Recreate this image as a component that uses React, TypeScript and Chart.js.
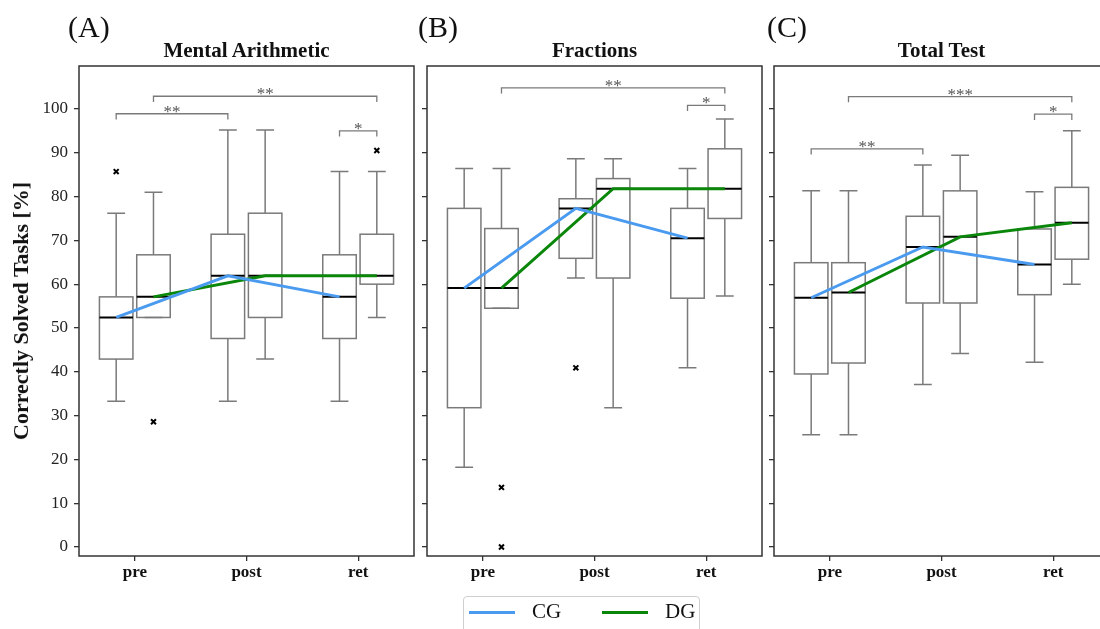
import React, { useEffect, useRef } from 'react';
import { Chart, registerables } from 'chart.js';

Chart.register(...registerables);

// ---------- data ----------
const timepoints = ['pre', 'post', 'ret'];
const groupNames = ['CG', 'DG'];
const yTicks = [0, 10, 20, 30, 40, 50, 60, 70, 80, 90, 100];
const panelLetters = ['(A)', '(B)', '(C)'];
const panelTitles = ['Mental Arithmetic', 'Fractions', 'Total Test'];
const yAxisTitle = 'Correctly Solved Tasks [%]';

// box statistics per timepoint: [lower whisker, Q1, median, Q3, upper whisker]
const arithmeticCG = [
  [33.3, 42.9, 52.4, 57.1, 76.2],
  [33.3, 47.6, 61.9, 71.4, 95.2],
  [33.3, 47.6, 57.1, 66.7, 85.7],
];
const arithmeticDG = [
  [52.4, 52.4, 57.1, 66.7, 81.0],
  [42.9, 52.4, 61.9, 76.2, 95.2],
  [52.4, 60.0, 61.9, 71.4, 85.7],
];
const fractionsCG = [
  [18.2, 31.8, 59.1, 77.3, 86.4],
  [61.4, 65.9, 77.3, 79.5, 88.6],
  [40.9, 56.8, 70.5, 77.3, 86.4],
];
const fractionsDG = [
  [54.5, 54.5, 59.1, 72.7, 86.4],
  [31.8, 61.4, 81.8, 84.1, 88.6],
  [57.3, 75.0, 81.8, 90.9, 97.7],
];
const totalCG = [
  [25.6, 39.5, 56.9, 64.9, 81.3],
  [37.1, 55.7, 68.5, 75.5, 87.2],
  [42.2, 57.6, 64.5, 72.6, 81.1],
];
const totalDG = [
  [25.6, 42.0, 58.1, 64.9, 81.3],
  [44.2, 55.7, 70.8, 81.3, 89.4],
  [60.0, 65.7, 74.0, 82.1, 95.0],
];

// outliers: [timepoint index, value]
const arithmeticOutliersCG = [[0, 85.7]];
const arithmeticOutliersDG = [[0, 28.6], [2, 90.5]];
const fractionsOutliersCG = [[1, 40.9]];
const fractionsOutliersDG = [[0, 13.6], [0, 0.0]];
const totalOutliersCG: number[][] = [];
const totalOutliersDG: number[][] = [];

// significance brackets: [from timepoint, from group, to timepoint, to group, height, label]
const arithmeticBrackets: (number | string)[][] = [
  [0, 0, 1, 0, 98.9, '**'],
  [0, 1, 2, 1, 102.9, '**'],
  [2, 0, 2, 1, 95.0, '*'],
];
const fractionsBrackets: (number | string)[][] = [
  [0, 1, 2, 1, 104.8, '**'],
  [2, 0, 2, 1, 100.8, '*'],
];
const totalBrackets: (number | string)[][] = [
  [0, 0, 1, 0, 90.9, '**'],
  [0, 1, 2, 1, 102.8, '***'],
  [2, 0, 2, 1, 98.8, '*'],
];

// ---------- style ----------
const SERIF = "'Liberation Serif', 'Times New Roman', Times, serif";
const BLUE = '#4a9bef';
const GREEN = '#0a870a';
const BOX_COLOR = '#7a7a7a';
const FRAME_COLOR = '#333333';
const GROUP_OFFSET = 0.167;
const BOX_WIDTH = 0.3;
const CAP_WIDTH = 0.16;
const BRACKET_LEG = 1.3;
const Y_MIN = -2.05;
const Y_MAX = 109.8;

const xOf = (t: number, g: number) => t + (g === 0 ? -GROUP_OFFSET : GROUP_OFFSET);

type PanelProps = {
  left: number;
  cg: number[][];
  dg: number[][];
  outCG: number[][];
  outDG: number[][];
  brackets: (number | string)[][];
  showYLabels: boolean;
};

function Panel({ left, cg, dg, outCG, outDG, brackets, showYLabels }: PanelProps) {
  const ref = useRef<HTMLCanvasElement>(null);

  useEffect(() => {
    if (!ref.current) return;

    const boxPlugin = {
      id: 'boxplots',
      beforeDatasetsDraw(chart: any) {
        const { ctx, scales } = chart;
        const x = scales.x;
        const y = scales.y;
        ctx.save();
        [cg, dg].forEach((stats, g) => {
          stats.forEach((s, t) => {
            const c = xOf(t, g);
            const xc = x.getPixelForValue(c);
            const xl = x.getPixelForValue(c - BOX_WIDTH / 2);
            const xr = x.getPixelForValue(c + BOX_WIDTH / 2);
            const cl = x.getPixelForValue(c - CAP_WIDTH / 2);
            const cr = x.getPixelForValue(c + CAP_WIDTH / 2);
            const [lo, q1, med, q3, hi] = s.map((v) => y.getPixelForValue(v));
            ctx.strokeStyle = BOX_COLOR;
            ctx.lineWidth = 1.5;
            ctx.beginPath();
            ctx.moveTo(xc, q3);
            ctx.lineTo(xc, hi);
            ctx.moveTo(xc, q1);
            ctx.lineTo(xc, lo);
            ctx.moveTo(cl, hi);
            ctx.lineTo(cr, hi);
            ctx.moveTo(cl, lo);
            ctx.lineTo(cr, lo);
            ctx.stroke();
            ctx.strokeRect(xl, q3, xr - xl, q1 - q3);
            ctx.strokeStyle = '#000';
            ctx.lineWidth = 2;
            ctx.beginPath();
            ctx.moveTo(xl, med);
            ctx.lineTo(xr, med);
            ctx.stroke();
          });
        });
        ctx.restore();
      },
      afterDatasetsDraw(chart: any) {
        const { ctx, scales } = chart;
        const x = scales.x;
        const y = scales.y;
        ctx.save();
        brackets.forEach((b) => {
          const [t1, g1, t2, g2, h, label] = b as [number, number, number, number, number, string];
          const x1 = x.getPixelForValue(xOf(t1, g1));
          const x2 = x.getPixelForValue(xOf(t2, g2));
          const yt = y.getPixelForValue(h);
          const yb = y.getPixelForValue(h - BRACKET_LEG);
          ctx.strokeStyle = '#7a7a7a';
          ctx.lineWidth = 1.3;
          ctx.beginPath();
          ctx.moveTo(x1, yb);
          ctx.lineTo(x1, yt);
          ctx.lineTo(x2, yt);
          ctx.lineTo(x2, yb);
          ctx.stroke();
          ctx.fillStyle = '#555';
          ctx.font = `17px ${SERIF}`;
          ctx.textAlign = 'center';
          ctx.textBaseline = 'alphabetic';
          ctx.fillText(label, (x1 + x2) / 2, yt + 3);
        });
        const a = chart.chartArea;
        ctx.strokeStyle = FRAME_COLOR;
        ctx.lineWidth = 1.5;
        ctx.strokeRect(a.left, a.top, a.right - a.left, a.bottom - a.top);
        ctx.restore();
      },
    };

    const gridOpts = {
      display: true,
      drawOnChartArea: false,
      drawTicks: true,
      tickLength: 5,
      color: FRAME_COLOR,
      lineWidth: 1.3,
    };

    const chart = new Chart(ref.current, {
      type: 'scatter',
      data: {
        datasets: [
          {
            label: groupNames[0],
            data: cg.map((s, t) => ({ x: xOf(t, 0), y: s[2] })),
            showLine: true,
            borderColor: BLUE,
            backgroundColor: BLUE,
            borderWidth: 3,
            pointRadius: 0,
          },
          {
            label: groupNames[1],
            data: dg.map((s, t) => ({ x: xOf(t, 1), y: s[2] })),
            showLine: true,
            borderColor: GREEN,
            backgroundColor: GREEN,
            borderWidth: 3,
            pointRadius: 0,
          },
          {
            label: 'outliers',
            data: [
              ...outCG.map(([t, v]) => ({ x: xOf(t, 0), y: v })),
              ...outDG.map(([t, v]) => ({ x: xOf(t, 1), y: v })),
            ],
            showLine: false,
            pointStyle: 'crossRot',
            pointRadius: 3.5,
            borderColor: '#000',
            borderWidth: 2,
          },
        ],
      },
      options: {
        animation: false,
        responsive: false,
        events: [],
        layout: { padding: { top: 66, right: 6, left: 0, bottom: 0 } },
        plugins: { legend: { display: false }, tooltip: { enabled: false } },
        scales: {
          x: {
            type: 'linear',
            min: -0.5,
            max: 2.5,
            afterBuildTicks: (s: any) => {
              s.ticks = timepoints.map((_, i) => ({ value: i }));
            },
            afterFit: (s: any) => {
              s.height = 73;
            },
            ticks: {
              callback: (v: any) => timepoints[v as number],
              font: { family: SERIF, size: 17, weight: 'bold' },
              color: '#111',
              padding: 1,
              maxRotation: 0,
              autoSkip: false,
            },
            grid: gridOpts,
            border: { display: false },
          },
          y: {
            type: 'linear',
            min: Y_MIN,
            max: Y_MAX,
            afterBuildTicks: (s: any) => {
              s.ticks = yTicks.map((v) => ({ value: v }));
            },
            afterFit: (s: any) => {
              s.width = 79;
            },
            ticks: {
              display: showYLabels,
              font: { family: SERIF, size: 17 },
              color: '#222',
              padding: 6,
            },
            grid: gridOpts,
            border: { display: false },
          },
        },
      } as any,
      plugins: [boxPlugin],
    });
    return () => chart.destroy();
  }, []);

  return (
    <canvas
      ref={ref}
      width={420}
      height={629}
      style={{ position: 'absolute', left, top: 0, width: 420, height: 629 }}
    />
  );
}

const panelLefts = [0, 348, 695];
const letterLefts = [68, 418, 767];
const titleCenters = [246.5, 594.5, 941.5];

export default function App() {
  const panels = [
    { cg: arithmeticCG, dg: arithmeticDG, outCG: arithmeticOutliersCG, outDG: arithmeticOutliersDG, brackets: arithmeticBrackets },
    { cg: fractionsCG, dg: fractionsDG, outCG: fractionsOutliersCG, outDG: fractionsOutliersDG, brackets: fractionsBrackets },
    { cg: totalCG, dg: totalDG, outCG: totalOutliersCG, outDG: totalOutliersDG, brackets: totalBrackets },
  ];
  return (
    <div
      style={{
        position: 'fixed',
        left: 0,
        top: 0,
        width: 1100,
        height: 629,
        overflow: 'hidden',
        background: '#fff',
        fontFamily: SERIF,
      }}
    >
      {panels.map((p, i) => (
        <Panel key={i} left={panelLefts[i]} {...p} showYLabels={i === 0} />
      ))}
      {panelLetters.map((l, i) => (
        <div
          key={'l' + i}
          style={{
            position: 'absolute',
            left: letterLefts[i],
            top: 12,
            fontSize: 30,
            lineHeight: '30px',
            color: '#111',
            whiteSpace: 'nowrap',
          }}
        >
          {l}
        </div>
      ))}
      {panelTitles.map((t, i) => (
        <div
          key={'t' + i}
          style={{
            position: 'absolute',
            left: titleCenters[i] - 150,
            width: 300,
            top: 40,
            textAlign: 'center',
            fontSize: 21,
            fontWeight: 'bold',
            lineHeight: '21px',
            color: '#111',
            whiteSpace: 'nowrap',
          }}
        >
          {t}
        </div>
      ))}
      <div
        style={{
          position: 'absolute',
          left: 21,
          top: 311,
          transform: 'translate(-50%, -50%) rotate(-90deg)',
          fontSize: 22,
          fontWeight: 'bold',
          lineHeight: '22px',
          whiteSpace: 'nowrap',
          color: '#111',
        }}
      >
        {yAxisTitle}
      </div>
      <div
        style={{
          position: 'absolute',
          left: 463,
          top: 596,
          width: 237,
          height: 44,
          border: '1px solid #cfcfcf',
          borderRadius: 4,
          boxSizing: 'border-box',
        }}
      >
        {groupNames.map((g, i) => (
          <React.Fragment key={g}>
            <div
              style={{
                position: 'absolute',
                left: 5 + i * 133,
                top: 14,
                width: 46,
                height: 3,
                background: i === 0 ? BLUE : GREEN,
              }}
            />
            <div
              style={{
                position: 'absolute',
                left: 68 + i * 133,
                top: 4,
                fontSize: 21,
                lineHeight: '21px',
                color: '#111',
              }}
            >
              {g}
            </div>
          </React.Fragment>
        ))}
      </div>
    </div>
  );
}
